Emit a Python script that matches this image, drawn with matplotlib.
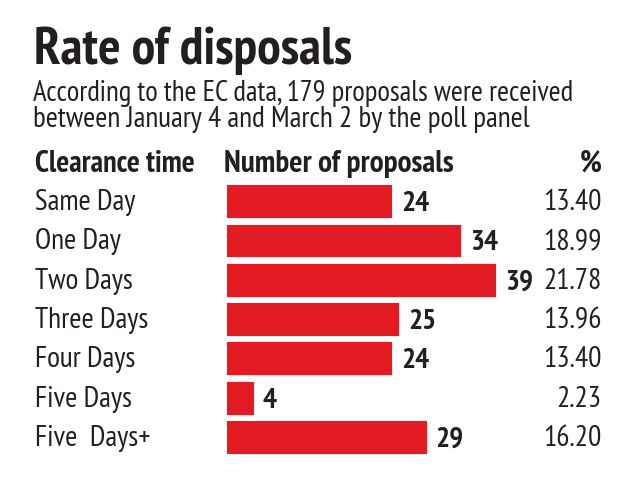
import matplotlib
matplotlib.use("Agg")
from matplotlib import pyplot as plt
from matplotlib import transforms

# chart data
categories = ["Same Day", "One Day", "Two Days", "Three Days", "Four Days", "Five Days", "Five  Days+"]
proposals = [24, 34, 39, 25, 24, 4, 29]
percents = ["13.40", "18.99", "21.78", "13.96", "13.40", "2.23", "16.20"]

title = "Rate of disposals"
subtitle = ["According to the EC data, 179 proposals were received",
            "between January 4 and March 2 by the poll panel"]

RED = "#e31b23"
INK = "#231f20"
W, H = 640, 484
FONT = ["PT Sans Narrow", "Roboto Condensed", "DejaVu Sans"]

fig = plt.figure(figsize=(W / 100, H / 100), dpi=100)
renderer = fig.canvas.get_renderer()


def px(x, y):
    # pixel coords (top-left origin) -> figure fraction
    return x / W, 1 - y / H


def fit_size(s, width, bold=False):
    # font size that makes the string about `width` pixels wide
    t = fig.text(0, 0, s, fontsize=20, family=FONT, fontweight="bold" if bold else "normal")
    w = t.get_window_extent(renderer).width
    t.remove()
    return 20 * width / w


def put(x, y, s, size, bold=False, ha="left"):
    fig.text(*px(x, y), s, fontsize=size, family=FONT, color=INK, ha=ha, va="baseline",
             fontweight="bold" if bold else "normal")


# title and subtitle
put(34, 64, title, fit_size(title, 319, bold=True), bold=True)
put(33, 101, subtitle[0], fit_size(subtitle[0], 537))
put(33, 127, subtitle[1], fit_size(subtitle[1], 494))

# column headers
head_size = fit_size("Clearance time", 160, bold=True)
put(35, 172, "Clearance time", head_size, bold=True)
put(224, 172, "Number of proposals", fit_size("Number of proposals", 230, bold=True), bold=True)
put(602, 172, "%", head_size, bold=True, ha="right")

# bar axes: 0..50 over 346 px, 7 rows of ~39.3 px
top, pitch = 181.5, 39.3
ax = fig.add_axes([226 / W, 1 - (top + 7 * pitch) / H, 346 / W, 7 * pitch / H])
y = list(range(len(categories)))
ax.barh(y, proposals, height=0.86, color=RED, edgecolor="white", linewidth=0.6)
ax.set_xlim(0, 50)
ax.set_ylim(len(categories) - 0.5, -0.5)
ax.axis("off")

row_size = fit_size("Five  Days+", 115)
val_size = head_size * 0.97
base = transforms.offset_copy(transforms.blended_transform_factory(fig.transFigure, ax.transData),
                              fig=fig, y=-9, units="dots")
val_base = transforms.offset_copy(ax.transData, fig=fig, x=9, y=-10, units="dots")
for yi, cat, val, pct in zip(y, categories, proposals, percents):
    fig.text(35 / W, yi, cat, transform=base, fontsize=row_size, color=INK, family=FONT,
             va="baseline")
    ax.text(val, yi, str(val), transform=val_base, fontsize=val_size, fontweight="bold",
            color=INK, family=FONT, va="baseline")
    fig.text(602 / W, yi, pct, transform=base, fontsize=row_size, color=INK, family=FONT,
             va="baseline", ha="right")

fig.savefig("out.png", dpi=100, facecolor="white")
